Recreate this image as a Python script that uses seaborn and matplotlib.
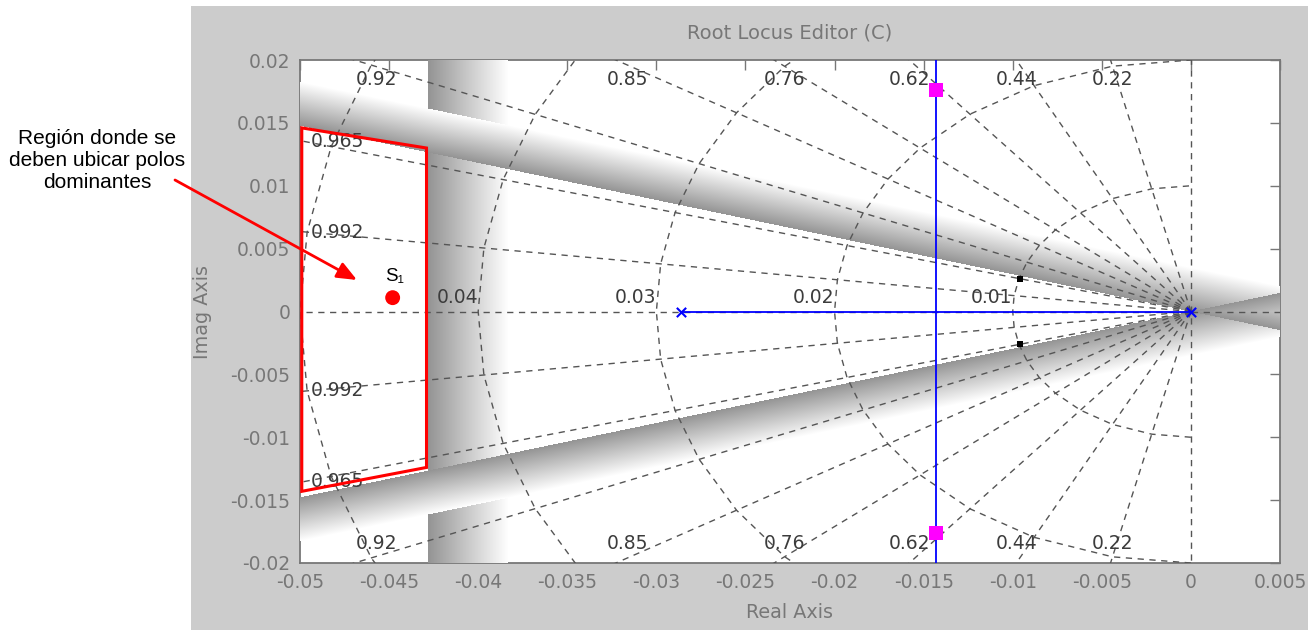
import numpy as np
import matplotlib
matplotlib.use("Agg")
import matplotlib.pyplot as plt
import seaborn as sns
from matplotlib.patches import Rectangle, Polygon, FancyArrowPatch

# axis ranges and ticks
x_limits = [-0.05, 0.005]
y_limits = [-0.02, 0.02]
x_ticks = [-0.05, -0.045, -0.04, -0.035, -0.03, -0.025, -0.02, -0.015, -0.01, -0.005, 0.0, 0.005]
y_ticks = [-0.02, -0.015, -0.01, -0.005, 0.0, 0.005, 0.01, 0.015, 0.02]

# s-plane grid (damping ratio lines, natural frequency circles)
zeta_grid = [0.992, 0.965, 0.92, 0.85, 0.76, 0.62, 0.44, 0.22]
zeta_label_top = ["0.92", "0.85", "0.76", "0.62", "0.44", "0.22"]
zeta_label_side = ["0.965", "0.992"]
wn_grid = [0.01, 0.02, 0.03, 0.04, 0.05]
wn_labels = ["0.01", "0.02", "0.03", "0.04"]

# root locus
ol_poles = [-0.0286, 0.0]
branch_re = -0.0143
cl_poles_re = [-0.0143, -0.0143]
cl_poles_im = [0.0176, -0.0176]
aux_poles_re = [-0.0096, -0.0096]
aux_poles_im = [0.0026, -0.0026]

# design constraints (shaded edges)
zeta_min = 0.959
sigma_max = -0.0428

# marked region and desired dominant pole
region_re = [-0.0499, -0.0429, -0.0429, -0.0499]
region_im = [0.0146, 0.0130, -0.0124, -0.0143]
s1_re, s1_im = -0.0448, 0.0011

# label placement (layout only)
top_label_x = [-0.0457, -0.0316, -0.0228, -0.0158, -0.0098, -0.0044]
top_label_y = 0.01845
side_label_x = -0.0479
side_label_y = [0.01348, 0.00632]

sns.set_style("white")
plt.rcParams["font.family"] = ["DejaVu Sans"]

GRAY_TXT = "#777777"
LBL = "#3c3c3c"

fig = plt.figure(figsize=(13.08, 6.3), dpi=100, facecolor="white")
fig.patches.append(Rectangle((191 / 1308, 0), 1, 624 / 630, transform=fig.transFigure,
                             facecolor="#cccccc", edgecolor="none", zorder=-10))
ax = fig.add_axes([300 / 1308, 67 / 630, 980 / 1308, 503 / 630])
ax.set_facecolor("white")

# ---- gradient shading of the constraint edges (computed in axes pixels)
W, H = 980, 503
sx = W / (x_limits[1] - x_limits[0])
sy = H / (y_limits[1] - y_limits[0])
PX, PY = np.meshgrid(np.arange(W) + 0.5, np.arange(H) + 0.5)
ox = (0 - x_limits[0]) * sx
oy = (y_limits[1] - 0) * sy
edge = 0.58
val = np.ones((H, W))
alpha = np.zeros((H, W))

d = PX - (sigma_max - x_limits[0]) * sx
m = (d >= 0) & (d < 80)
val[m] = edge + (1 - edge) * d[m] / 80
alpha[m] = 1

slope = np.tan(np.arccos(zeta_min)) * sy / sx
nrm = np.hypot(slope, 1)
band_w = 43
diag = np.ones((H, W))
dmask = np.zeros((H, W), bool)
for sgn in (1, -1):
    dd = ((PX - ox) * slope - sgn * (PY - oy)) / nrm
    mm = (dd >= 0) & (dd < band_w)
    diag[mm] = np.minimum(diag[mm], edge + (1 - edge) * dd[mm] / band_w)
    dmask |= mm
val[dmask] = diag[dmask]
alpha[dmask] = 1
rgba = np.dstack([val, val, val, alpha])
ax.imshow(rgba, extent=[x_limits[0], x_limits[1], y_limits[0], y_limits[1]],
          aspect="auto", origin="upper", interpolation="bilinear", zorder=3)

# ---- s-plane grid
grid_kw = dict(color="#555555", lw=1.0, linestyle=(0, (4.5, 4)), zorder=4)
far = 0.2
for z in zeta_grid:
    th = np.arccos(z)
    for sgn in (1, -1):
        ax.plot([0, -far * np.cos(th)], [0, sgn * far * np.sin(th)], **grid_kw)
ax.plot([-far, far], [0, 0], **grid_kw)
ax.plot([0, 0], [-far, far], **grid_kw)
ang = np.arccos([1.0] + zeta_grid + [0.0])
ang = np.concatenate([-ang[::-1], ang[1:]])
for wn in wn_grid:
    ax.plot(-wn * np.cos(ang), wn * np.sin(ang), **grid_kw)

txt_kw = dict(fontsize=13.5, color=LBL, zorder=5)
for lab, x in zip(zeta_label_top, top_label_x):
    for sgn in (1, -1):
        ax.text(x, sgn * top_label_y, lab, ha="center", va="center", **txt_kw)
for lab, y in zip(zeta_label_side, side_label_y):
    for sgn in (1, -1):
        ax.text(side_label_x, sgn * y, lab, ha="center", va="center", **txt_kw)
for lab, wn in zip(wn_labels, wn_grid):
    ax.text(-wn, 0.0007, lab, ha="right", va="baseline", **txt_kw)

# ---- root locus
sns.lineplot(x=ol_poles, y=[0, 0], color="blue", lw=1.3, estimator=None, sort=False,
             ax=ax, zorder=6)
sns.lineplot(x=[branch_re, branch_re], y=y_limits, color="blue", lw=1.3, estimator=None,
             sort=False, ax=ax, zorder=6)
sns.scatterplot(x=ol_poles, y=[0, 0], marker="x", color="blue", s=45, linewidth=1.5,
                ax=ax, zorder=7)
sns.scatterplot(x=cl_poles_re, y=cl_poles_im, marker="s", color="#ff00ff", s=100,
                edgecolor="none", ax=ax, zorder=7)
sns.scatterplot(x=aux_poles_re, y=aux_poles_im, marker="s", color="black", s=22,
                edgecolor="none", ax=ax, zorder=7)

# ---- marked region and S1
ax.add_patch(Polygon(np.column_stack([region_re, region_im]), closed=True, fill=False,
                     edgecolor="red", lw=2.2, zorder=6))
sns.scatterplot(x=[s1_re], y=[s1_im], color="red", s=115, edgecolor="none", ax=ax, zorder=7)
ax.text(-0.04472, 0.00282, "S\u2081", ha="center", va="center", fontsize=13.5,
        family=["Liberation Sans", "DejaVu Sans"], color="black", zorder=8)

# ---- axes styling
ax.set_xlim(x_limits)
ax.set_ylim(y_limits)
ax.set_xticks(x_ticks)
ax.set_yticks(y_ticks)
ax.set_xticklabels([f"{round(v, 4):g}" if v != 0 else "0" for v in x_ticks])
ax.set_yticklabels([f"{round(v, 4):g}" if v != 0 else "0" for v in y_ticks])
ax.set_xlabel("")
ax.set_ylabel("")
ax.tick_params(direction="in", length=7, width=1, colors=GRAY_TXT, labelsize=13.5, pad=7,
               top=True, right=True)
for s in ax.spines.values():
    s.set_color(GRAY_TXT)
    s.set_linewidth(1.3)
    s.set_visible(True)

fig.text(790 / 1308, 1 - 33 / 630, "Root Locus Editor (C)", ha="center", va="center",
         fontsize=14, color=GRAY_TXT)
fig.text(790 / 1308, 1 - 613 / 630, "Real Axis", ha="center", va="center",
         fontsize=13.8, color=GRAY_TXT)
fig.text(203 / 1308, 1 - 312 / 630, "Imag Axis", ha="center", va="center", rotation=90,
         fontsize=13.8, color=GRAY_TXT)

# ---- annotation outside the axes
fig.text(97 / 1308, 1 - 160 / 630, "Región donde se\ndeben ubicar polos\ndominantes",
         ha="center", va="center", fontsize=15, family="Liberation Sans",
         linespacing=1.2, color="black")
fig.add_artist(FancyArrowPatch((175 / 1308, 1 - 180 / 630), (357 / 1308, 1 - 280 / 630),
                               transform=fig.transFigure,
                               arrowstyle="-|>,head_length=12,head_width=5",
                               mutation_scale=1, color="red", lw=2,
                               shrinkA=0, shrinkB=0))

fig.savefig("out.png", dpi=100, facecolor=fig.get_facecolor())
